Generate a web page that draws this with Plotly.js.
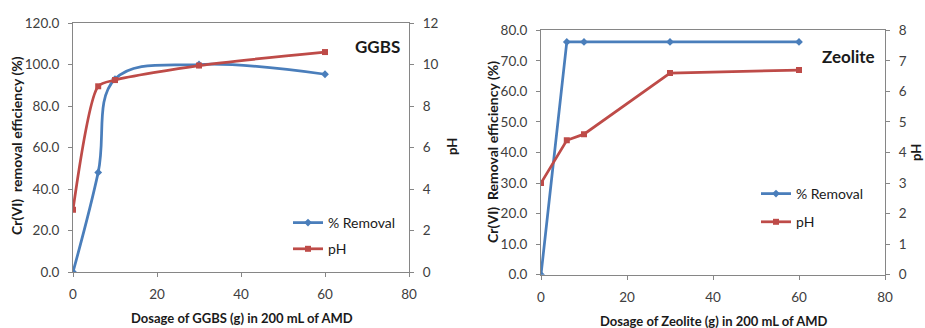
<!DOCTYPE html>
<html>
<head>
<meta charset="utf-8">
<script src="https://cdn.plot.ly/plotly-3.0.1.min.js"></script>
<style>html,body{margin:0;padding:0;background:#fff;}#chart{width:925px;height:328px;}</style>
</head>
<body>
<div id="chart"></div>
<script>
// ---- data ----
const dosage = [0, 6, 10, 30, 60];
const ggbsRemoval = [0, 48, 93, 100, 95.3];
const ggbsPH = [3.0, 8.95, 9.25, 9.95, 10.6];
const zeoRemoval = [0, 76.2, 76.2, 76.2, 76.2];
const zeoPH = [3.0, 4.4, 4.6, 6.6, 6.7];
const xTicks = [0, 20, 40, 60, 80];
const ggbsRemTicks = [0, 20, 40, 60, 80, 100, 120];
const ggbsPHTicks = [0, 2, 4, 6, 8, 10, 12];
const zeoRemTicks = [0, 10, 20, 30, 40, 50, 60, 70, 80];
const zeoPHTicks = [0, 1, 2, 3, 4, 5, 6, 7, 8];
const seriesNames = ['% Removal', 'pH'];

const W = 925, H = 328;
const px = v => v / W, py = v => 1 - v / H;
const BLUE = '#4a7ebb', RED = '#be4b48';
const FONT = 'Lato, "Open Sans", sans-serif';
const TICKC = '#404040';
const AX = '#868686';

const traces = [
  {x: dosage, y: ggbsRemoval, name: seriesNames[0], xaxis: 'x', yaxis: 'y', mode: 'lines+markers',
   line: {color: BLUE, width: 2.75, shape: 'spline', smoothing: 1.1}, marker: {symbol: 'diamond', size: 6, color: BLUE},
   legend: 'legend', legendgroup: 'a'},
  {x: dosage, y: ggbsPH, name: seriesNames[1], xaxis: 'x', yaxis: 'y2', mode: 'lines+markers',
   line: {color: RED, width: 2.75, shape: 'spline', smoothing: 0.7}, marker: {symbol: 'square', size: 6, color: RED},
   legend: 'legend', legendgroup: 'b'},
  {x: dosage, y: zeoRemoval, name: seriesNames[0], xaxis: 'x2', yaxis: 'y3', mode: 'lines+markers',
   line: {color: BLUE, width: 2.75}, marker: {symbol: 'diamond', size: 6, color: BLUE},
   legend: 'legend2', legendgroup: 'c'},
  {x: dosage, y: zeoPH, name: seriesNames[1], xaxis: 'x2', yaxis: 'y4', mode: 'lines+markers',
   line: {color: RED, width: 2.75}, marker: {symbol: 'square', size: 6, color: RED},
   legend: 'legend2', legendgroup: 'd'}
];

const axBase = {showgrid: false, zeroline: false, showline: true, linecolor: AX, linewidth: 1,
  ticks: 'outside', ticklen: 4, tickcolor: AX, tickfont: {family: FONT, size: 13.5, color: TICKC}, fixedrange: true};

const ann = (text, x, y, size, angle) => ({text: text, x: px(x), y: py(y), xref: 'paper', yref: 'paper',
  xanchor: 'center', yanchor: 'middle', textangle: angle || 0, showarrow: false,
  font: {family: FONT, size: size, color: '#1a1a1a'}});

const layout = {
  width: W, height: H, margin: {l: 0, r: 0, t: 0, b: 0},
  paper_bgcolor: '#fff', plot_bgcolor: '#fff', showlegend: true,
  font: {family: FONT, color: '#222'},
  xaxis: Object.assign({}, axBase, {domain: [px(73), px(409)], range: [0, 80], tickvals: xTicks, anchor: 'y', mirror: true, ticklabelstandoff: 6}),
  yaxis: Object.assign({}, axBase, {domain: [py(272), py(23)], range: [0, 120], tickvals: ggbsRemTicks, tickformat: '.1f', anchor: 'x', ticklabelstandoff: 6}),
  yaxis2: Object.assign({}, axBase, {overlaying: 'y', side: 'right', range: [0, 12], tickvals: ggbsPHTicks, anchor: 'x', ticklabelstandoff: 6}),
  xaxis2: Object.assign({}, axBase, {domain: [px(541), px(885)], range: [0, 80], tickvals: xTicks, anchor: 'y3', mirror: true, ticklabelstandoff: 6}),
  yaxis3: Object.assign({}, axBase, {domain: [py(274.7), py(30.3)], range: [0, 80], tickvals: zeoRemTicks, tickformat: '.1f', anchor: 'x2', ticklabelstandoff: 6}),
  yaxis4: Object.assign({}, axBase, {overlaying: 'y3', side: 'right', range: [0, 8], tickvals: zeoPHTicks, anchor: 'x2', ticklabelstandoff: 6}),
  legend: {x: px(288), y: py(207), xanchor: 'left', yanchor: 'top', bgcolor: 'rgba(0,0,0,0)', itemwidth: 30,
    tracegroupgap: 5, font: {family: FONT, size: 14, color: '#1a1a1a'}, traceorder: 'grouped'},
  legend2: {x: px(756), y: py(178), xanchor: 'left', yanchor: 'top', bgcolor: 'rgba(0,0,0,0)', itemwidth: 30,
    tracegroupgap: 7, font: {family: FONT, size: 14, color: '#1a1a1a'}, traceorder: 'grouped'},
  annotations: [
    ann('<b>GGBS</b>', 377, 46, 17),
    ann('<b>Zeolite</b>', 848, 56, 17),
    ann('<b>Dosage of GGBS (g) in 200 mL of AMD</b>', 242, 318, 13),
    ann('<b>Dosage of Zeolite (g) in 200 mL of AMD</b>', 713, 321, 13),
    ann('<b>Cr(VI)  removal efficiency (%)</b>', 17, 146, 14, -90),
    ann('<b>Cr(VI)  Removal efficiency (%)</b>', 492, 152, 14, -90),
    ann('<b>pH</b>', 452, 147, 13, -90),
    ann('<b>pH</b>', 916, 153, 13, -90)
  ]
};

Plotly.newPlot('chart', traces, layout, {displayModeBar: false, staticPlot: true});
</script>
</body>
</html>
